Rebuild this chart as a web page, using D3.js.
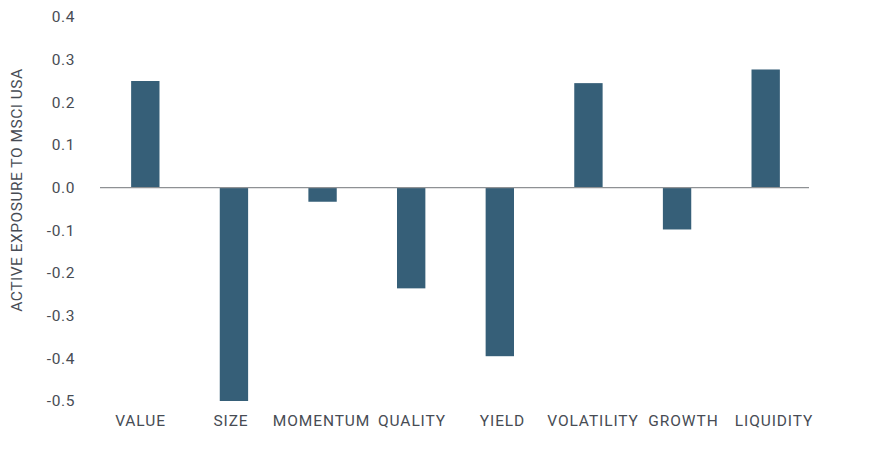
<!DOCTYPE html>
<html><head><meta charset="utf-8">
<script src="https://cdn.jsdelivr.net/npm/d3@7"></script>
<style>body{margin:0;background:#fff}</style>
</head><body>
<svg id="c" width="871" height="469"></svg>
<script>
const categories = ["VALUE","SIZE","MOMENTUM","QUALITY","YIELD","VOLATILITY","GROWTH","LIQUIDITY"];
const values = [0.25,-0.50,-0.033,-0.236,-0.395,0.245,-0.098,0.277];
const yTicks = [0.4,0.3,0.2,0.1,0.0,-0.1,-0.2,-0.3,-0.4,-0.5];
const yTitle = "ACTIVE EXPOSURE TO MSCI USA";

const svg = d3.select("#c");
const font = "Roboto, 'DejaVu Sans', sans-serif";
const textColor = "#474c54";
const x = d3.scaleBand().domain(categories).range([101,810]).paddingInner(0.68).paddingOuter(0.34);
const xLab = d3.scalePoint().domain(categories).range([140,773.5]);
const y = d3.scaleLinear().domain([-0.5,0.4]).range([401,17]);

svg.append("g").selectAll("rect").data(values).join("rect")
  .attr("x",(d,i)=>x(categories[i]))
  .attr("width",x.bandwidth())
  .attr("y",d=>y(Math.max(0,d)))
  .attr("height",d=>Math.abs(y(d)-y(0)))
  .attr("fill","#365f78");

svg.append("line").attr("x1",100).attr("x2",809).attr("y1",y(0)).attr("y2",y(0))
  .attr("stroke","#8e9194").attr("stroke-width",1.2);

const yAxis = d3.axisLeft(y).tickValues(yTicks).tickFormat(d3.format(".1f")).tickSize(0).tickPadding(0);
const ga = svg.append("g").attr("transform","translate(75,0)").call(yAxis);
ga.select(".domain").remove();
ga.selectAll("text").attr("font-family",font).attr("font-size",15.5).attr("fill",textColor).attr("text-anchor","end").attr("letter-spacing","0.6px")
  .text(d=> d<0 ? "-"+Math.abs(d).toFixed(1) : d.toFixed(1));

const xAxis = d3.axisBottom(xLab).tickSize(0).tickPadding(0);
const gx = svg.append("g").attr("transform","translate(0,415)").call(xAxis);
gx.select(".domain").remove();
gx.selectAll("text").attr("font-family",font).attr("font-size",15.5).attr("fill",textColor).attr("letter-spacing","0.9px");

svg.append("text").attr("transform","translate(22,190) rotate(-90)").attr("text-anchor","middle")
  .attr("font-family",font).attr("font-size",15.5).attr("fill",textColor).attr("letter-spacing","0.5px").text(yTitle);
</script>
</body></html>
